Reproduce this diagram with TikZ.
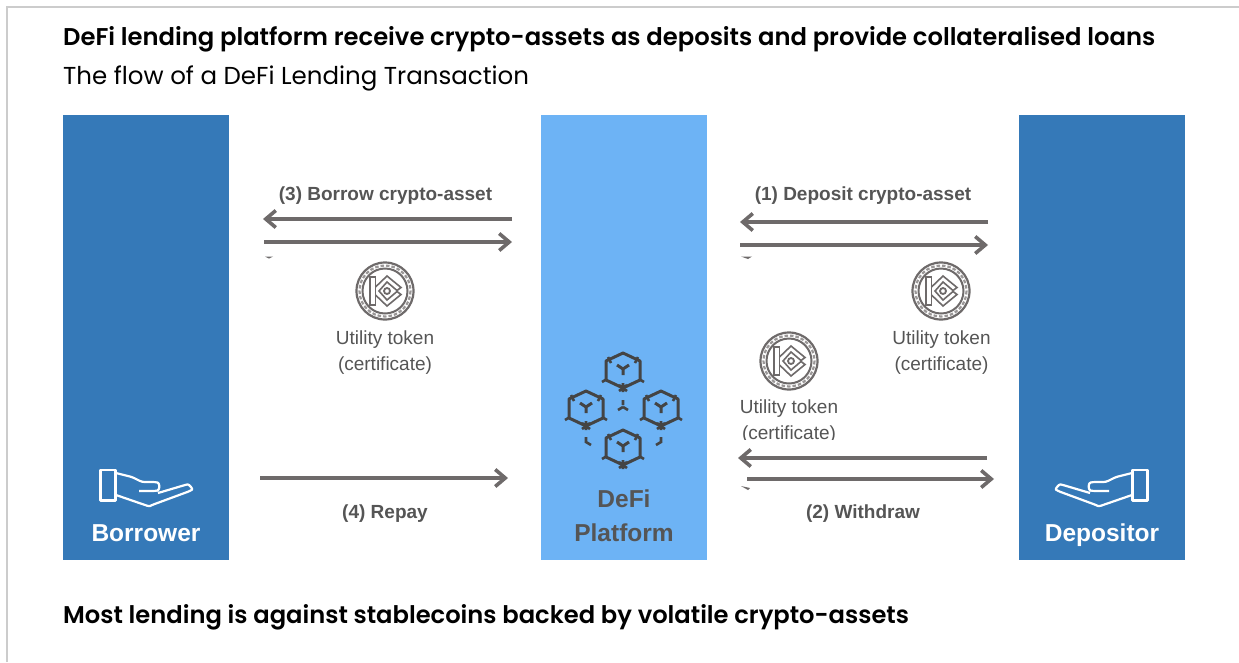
\documentclass[tikz,border=0pt]{standalone}
\usepackage{fontspec}
\setmainfont{Liberation Sans}
\newfontfamily\titlefont{Poppins}
\newfontfamily\titlebold{Poppins SemiBold}
\usetikzlibrary{arrows.meta}
\definecolor{deepblue}{HTML}{3579B8}
\definecolor{lightblue}{HTML}{6DB3F5}
\definecolor{arrowgray}{HTML}{6E6A6A}
\definecolor{labelgray}{HTML}{555555}
\definecolor{icongray}{HTML}{444444}
\definecolor{framegray}{HTML}{CCCCCC}
\tikzset{
  panel/.style={inner sep=0pt,minimum width=166pt,minimum height=445pt},
  flow/.style={draw=arrowgray,line width=3.6pt,-{Straight Barb[length=10pt,width=17pt,line width=3.6pt]}},
  flowlabel/.style={anchor=base,text=labelgray,font=\fontsize{19}{21}\selectfont\bfseries,inner sep=0pt},
  tokenlabel/.style={anchor=base,text=labelgray,font=\fontsize{19}{22}\selectfont,inner sep=0pt},
  panellabel/.style={anchor=base,font=\fontsize{24.5}{28}\selectfont\bfseries,inner sep=0pt},
  titletext/.style={anchor=base west,text=black,inner sep=0pt},
  coinpic/.pic={
    \draw[arrowgray,line width=2.2pt] (0,0) circle (28.5);
    \draw[arrowgray,line width=2pt] (0,0) circle (22.5);
    \draw[arrowgray!70,line width=2.2pt,dash pattern=on 3.5pt off 2pt] (0,0) circle (25.5);
    \draw[arrowgray,line width=1.6pt,line join=miter] (-15,-14) rectangle (-9.5,14);
    \draw[arrowgray,line width=1.6pt,line join=miter] (-9.5,-4) -- (2,-15) -- (16,-3.5) -- (12,-0.5) -- (2,-9) -- (-6,0) -- (2,9) -- (12,0.5) -- (16,3.5) -- (2,15) -- (-9.5,4);
    \draw[arrowgray,line width=1.8pt] (2,0) circle (3);
  },
  hexpic/.pic={
    \draw[icongray,line width=3pt,line join=round] (-17,-9) -- (0,-17) -- (17,-9) -- (17,10) -- (0,18) -- (-17,10) -- cycle;
    \draw[icongray,line width=3pt] (0,-1) -- (0,5) (0,-1) -- (-6,-5) (0,-1) -- (6,-5);
    \draw[icongray,line width=2.6pt] (-21,12) -- (-16,9) (21,12) -- (16,9) (0,13) -- (0,22) (-4,15) -- (4,21) (4,15) -- (-4,21)
      (-15,-13) -- (-12,-7) (15,-13) -- (12,-7);
  },
  handpic/.pic={
    \draw[white,line width=2.2pt,line join=round] (-7.5,-15) rectangle (7.5,15.5);
    \draw[white,line width=2.2pt,line join=round,rounded corners=2.5pt]
      (8,-12) -- (24,-8) -- (34,-3) -- (47,-3) .. controls (52,-2) and (52,5) .. (47,6) -- (31,6)
      (50,8) -- (77,0) .. controls (81,-1) and (85,4) .. (82,6) -- (44,20) .. controls (42,21) and (40,21) .. (37,20) -- (8,10);
  }
}
\begin{document}
\begin{tikzpicture}[x=1pt,y=-1pt]
\useasboundingbox (0,0) rectangle (1239,662);
\fill[white] (0,0) rectangle (1239,662);
\draw[framegray,line width=2pt] (7,662) -- (7,7) -- (1239,7);

\node[titletext,font=\titlebold\fontsize{24.25}{28}\selectfont] (title) at (63,45) {DeFi lending platform receive crypto-assets as deposits and provide collateralised loans};
\node[titletext,font=\titlefont\fontsize{24.5}{28}\selectfont] (subtitle) at (63,84) {The flow of a DeFi Lending Transaction};
\node[titletext,font=\titlebold\fontsize{24.2}{28}\selectfont] (footer) at (63,623) {Most lending is against stablecoins backed by volatile crypto-assets};

\node[panel,fill=deepblue] (borrower) at (146,337.5) {};
\node[panel,fill=lightblue] (platform) at (624,337.5) {};
\node[panel,fill=deepblue] (depositor) at (1102,337.5) {};

\node[panellabel,text=white] (borrowerlabel) at (146,541) {Borrower};
\node[panellabel,text=white] (depositorlabel) at (1102,541) {Depositor};
\node[panellabel,text=labelgray] (platformlabel1) at (624,507) {DeFi};
\node[panellabel,text=labelgray] (platformlabel2) at (624,541) {Platform};

\pic at (108,485) {handpic};
\pic[xscale=-1] at (1140,485) {handpic};

\pic at (623,370) {hexpic};
\pic at (586,408) {hexpic};
\pic at (661,408) {hexpic};
\pic at (623,447) {hexpic};
\draw[icongray,line width=2.6pt] (623,400) -- (623,405) (623,407) -- (618,410) (623,407) -- (628,410)
  (586,437) -- (586,442) -- (591,445) (661,437) -- (661,442) -- (656,445);

\coordinate (b1) at (512,219); \coordinate (b2) at (263,219);
\coordinate (b3) at (264,242); \coordinate (b4) at (512,242);
\coordinate (d1) at (988,222); \coordinate (d2) at (740,222);
\coordinate (d3) at (740,245); \coordinate (d4) at (988,245);
\coordinate (r1) at (260,478); \coordinate (r2) at (508,478);
\coordinate (w1) at (987,458); \coordinate (w2) at (738,458);
\coordinate (w3) at (747,479); \coordinate (w4) at (994,479);
\draw[flow] (b1) -- (b2);
\draw[flow] (b3) -- (b4);
\draw[flow] (d1) -- (d2);
\draw[flow] (d3) -- (d4);
\draw[flow] (r1) -- (r2);
\draw[flow] (w1) -- (w2);
\draw[flow] (w3) -- (w4);

\fill[arrowgray] (265,256.5) -- (273,256.5) -- (269,258.5) -- cycle;
\fill[arrowgray] (741,256.5) -- (752,256.5) -- (748,259) -- cycle;
\fill[arrowgray] (741,486) -- (750,488) -- (748,490) -- cycle;

\node[flowlabel] (l3) at (385.5,200) {(3) Borrow crypto-asset};
\node[flowlabel] (l1) at (863,200) {(1) Deposit crypto-asset};
\node[flowlabel] (l4) at (385,518) {(4) Repay};
\node[flowlabel] (l2) at (863,518) {(2) Withdraw};

\pic at (385,291) {coinpic};
\pic at (941,291) {coinpic};
\pic at (789,361) {coinpic};

\node[tokenlabel] (t1a) at (385,344) {Utility token};
\node[tokenlabel] (t1b) at (385,370) {(certificate)};
\node[tokenlabel] (t2a) at (941.5,344) {Utility token};
\node[tokenlabel] (t2b) at (941.5,370) {(certificate)};
\node[tokenlabel] (t3a) at (789,413) {Utility token};
\begin{scope}
\clip (730,420) rectangle (850,439.5);
\node[tokenlabel] (t3b) at (789,439) {(certificate)};
\end{scope}
\end{tikzpicture}
\end{document}
